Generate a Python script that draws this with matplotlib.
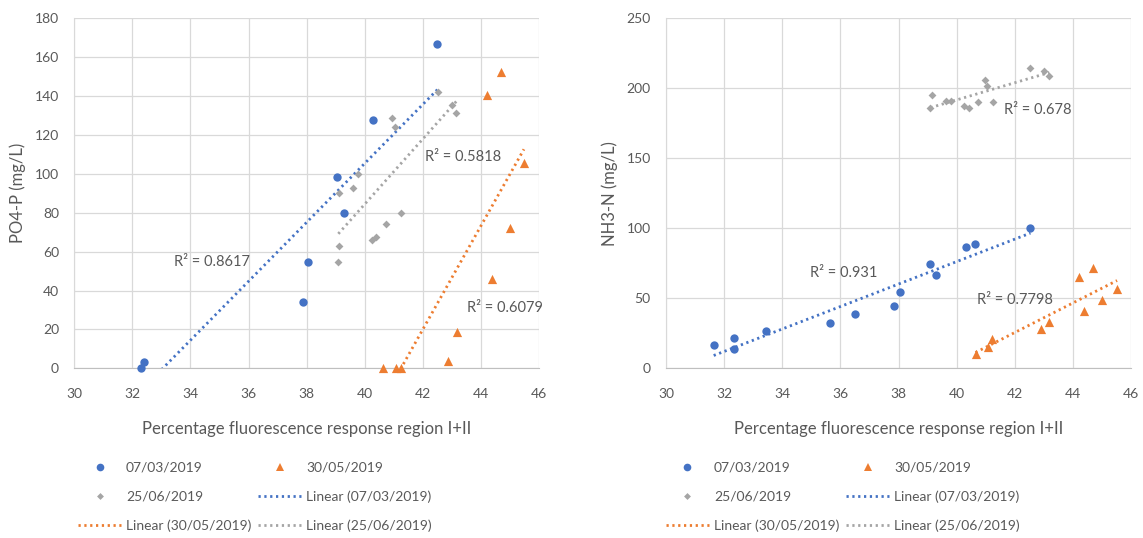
"""Scatter plots of PO4-P and NH3-N against fluorescence response, with linear trendlines."""

import matplotlib.pyplot as plt
import numpy as np
from matplotlib.lines import Line2D

plt.rcParams["font.family"] = ["Lato", "DejaVu Sans"]

DATES = ["07/03/2019", "30/05/2019", "25/06/2019"]
COLORS = ["#4472C4", "#ED7D31", "#A5A5A5"]
MARKERS = ["o", "^", "D"]
MARKER_SIZES = [36, 44, 16]

# PO4-P panel
po4_x_0703 = [32.30, 32.39, 37.87, 38.06, 39.04, 39.27, 40.30, 42.50]
po4_y_0703 = [0.3, 3.4, 34.3, 54.9, 98.6, 80.1, 127.7, 167.0]
po4_x_3005 = [44.69, 44.20, 45.48, 45.01, 44.39, 43.17, 42.88, 40.64, 41.06, 41.24]
po4_y_3005 = [152.2, 140.6, 105.8, 72.0, 45.8, 18.9, 3.8, 0.3, 0.3, 0.3]
po4_x_2506 = [42.53, 43.00, 43.15, 40.95, 41.03, 39.78, 39.12, 39.61, 41.24,
              40.73, 40.39, 40.24, 39.12, 39.09]
po4_y_2506 = [141.9, 135.4, 131.1, 128.6, 124.1, 100.1, 90.3, 92.7, 80.1,
              74.1, 67.5, 66.2, 62.7, 54.5]
po4_r2 = ["R² = 0.8617", "R² = 0.6079", "R² = 0.5818"]

# NH3-N panel
nh3_x_0703 = [31.64, 32.35, 32.33, 33.44, 35.65, 36.51, 37.86, 38.06, 39.07,
              39.28, 40.32, 40.62, 42.54]
nh3_y_0703 = [16.4, 21.9, 13.8, 26.7, 32.4, 39.0, 44.5, 54.8, 74.5, 66.9,
              86.9, 89.0, 100.5]
nh3_x_3005 = [44.69, 44.20, 45.52, 45.01, 44.39, 43.18, 42.91, 41.23, 41.07, 40.65]
nh3_y_3005 = [71.4, 65.5, 56.4, 48.8, 41.0, 33.3, 28.3, 21.0, 15.5, 10.0]
nh3_x_2506 = [42.54, 43.02, 43.19, 40.98, 41.05, 39.14, 39.64, 39.80, 40.75,
              41.25, 40.27, 40.44, 39.10]
nh3_y_2506 = [214.8, 212.4, 209.0, 206.0, 201.7, 195.5, 191.0, 191.0, 190.0,
              190.0, 187.4, 185.7, 186.2]
nh3_r2 = ["R² = 0.931", "R² = 0.7798", "R² = 0.678"]

TEXT_COLOR = "#595959"
GRID_COLOR = "#D9D9D9"
DOTS = (0, (0.8, 1.3))


def draw_panel(ax, series, r2_labels, r2_pos, ylim, ystep, ylabel):
    ax.set_xlim(30, 46)
    ax.set_ylim(*ylim)
    ax.set_xticks(np.arange(30, 47, 2))
    ax.set_yticks(np.arange(ylim[0], ylim[1] + 1, ystep))
    ax.grid(True, color=GRID_COLOR, linewidth=0.9)
    ax.set_axisbelow(True)
    for side in ["top", "right"]:
        ax.spines[side].set_visible(False)
    ax.spines["left"].set_color(GRID_COLOR)
    ax.spines["bottom"].set_color("#BFBFBF")
    ax.tick_params(length=0, labelsize=10, labelcolor=TEXT_COLOR)
    ax.tick_params(axis="x", pad=14)
    ax.tick_params(axis="y", pad=11)
    ax.set_xlabel("Percentage fluorescence response region I+II",
                  fontsize=12, color=TEXT_COLOR, labelpad=15)
    ax.set_ylabel(ylabel, fontsize=12, color=TEXT_COLOR, labelpad=6)

    for (xs, ys), color, marker, size in zip(series, COLORS, MARKERS, MARKER_SIZES):
        ax.scatter(xs, ys, s=size, color=color, marker=marker, zorder=3,
                   clip_on=False, linewidths=0)
    for (xs, ys), color in zip(series, COLORS):
        slope, intercept = np.polyfit(xs, ys, 1)
        xx = np.array([min(xs), max(xs)])
        ax.plot(xx, slope * xx + intercept, color=color, linewidth=2,
                linestyle=DOTS, zorder=2)
    for label, (tx, ty) in zip(r2_labels, r2_pos):
        ax.text(tx, ty, label, fontsize=10.5, color=TEXT_COLOR,
                ha="center", va="center", zorder=4)


def panel_legend(fig, center_x):
    h_marker = [Line2D([], [], linestyle="none", marker=m, color=c,
                       markersize=s, markeredgewidth=0)
                for m, c, s in zip(MARKERS, COLORS, [5.5, 6, 3.5])]
    h_line = [Line2D([], [], color=c, linewidth=2, linestyle=DOTS) for c in COLORS]
    labels = DATES + [f"Linear ({d})" for d in DATES]
    handles = h_marker + h_line
    # ncol=2 fills column-wise, so reorder to get the row-wise layout
    order = [0, 2, 4, 1, 3, 5]
    fig.legend([handles[i] for i in order], [labels[i] for i in order],
               ncol=2, loc="center", bbox_to_anchor=(center_x, 0.076),
               frameon=False, fontsize=10, labelcolor=TEXT_COLOR,
               handlelength=3.1, handletextpad=0.36, columnspacing=0.5,
               labelspacing=1.2)


fig = plt.figure(figsize=(11.43, 5.38), dpi=100)
ax1 = fig.add_axes([0.065, 0.3154, 0.4066, 0.6506])
ax2 = fig.add_axes([0.5827, 0.3154, 0.4068, 0.6506])

draw_panel(ax1,
           [(po4_x_0703, po4_y_0703), (po4_x_3005, po4_y_3005), (po4_x_2506, po4_y_2506)],
           po4_r2, [(34.73, 54.8), (44.81, 30.9), (43.37, 108.8)],
           (0, 180), 20, "PO4-P (mg/L)")
draw_panel(ax2,
           [(nh3_x_0703, nh3_y_0703), (nh3_x_3005, nh3_y_3005), (nh3_x_2506, nh3_y_2506)],
           nh3_r2, [(36.10, 67.9), (41.99, 48.8), (42.79, 184.7)],
           (0, 250), 50, "NH3-N (mg/L)")

panel_legend(fig, 255 / 1143)
panel_legend(fig, 843 / 1143)

fig.savefig("out.png", dpi=100)
